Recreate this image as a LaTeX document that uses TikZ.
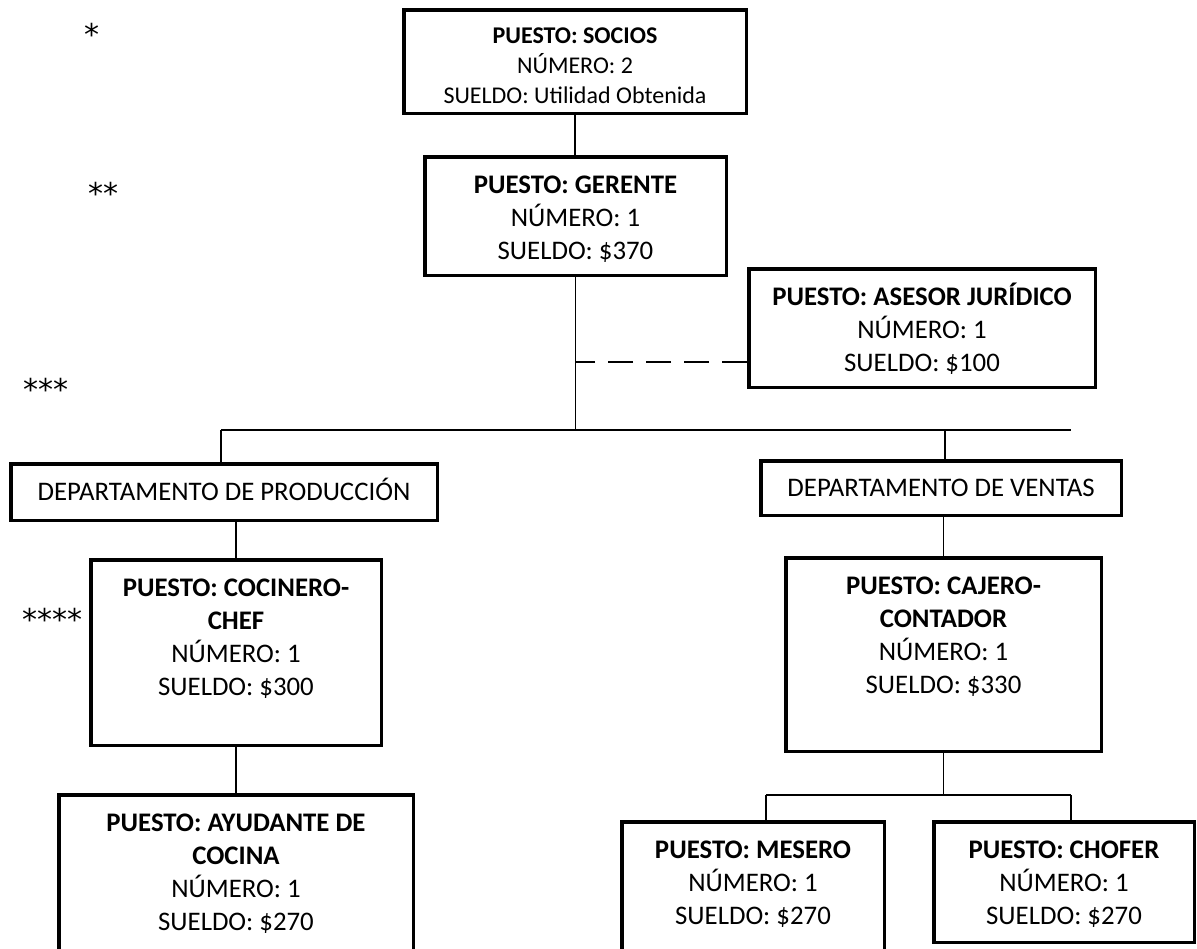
\documentclass[tikz,border=0pt]{standalone}
\usepackage{fontspec}
\setmainfont{Carlito}
\newfontfamily\estrellas{DejaVu Sans}

% caja de texto con alto fijo y texto arriba
\newcommand{\cargo}[3]{\parbox[b][#2][t]{#1}{\centering\rule{0pt}{\dimexpr\baselineskip-0.5pt\relax}#3}}

\begin{document}
\begin{tikzpicture}[x=0.5pt,y=-0.5pt,
  caja/.style={draw,line width=1.75pt,inner sep=2.2pt,
    font=\fontsize{13.4}{16.5}\selectfont},
  depto/.style={draw,line width=1.75pt,inner sep=0pt,
    font=\fontsize{13.4}{16.5}\selectfont,text height=8.6pt,text depth=0pt},
  linea/.style={line width=0.75pt},
  nivel/.style={anchor=west,inner sep=0pt,font=\estrellas\fontsize{15}{18}\selectfont}]
\useasboundingbox (0,0) rectangle (1197,948);
\clip (0,0) rectangle (1197,948);
% Niveles
\node[nivel] (n1) at (84,34) {*};
\node[nivel] (n2) at (88,193) {**};
\node[nivel] (n3) at (23,389) {***};
\node[nivel] (n4) at (22,619) {****};
% Direccion
\node[caja,font=\fontsize{12}{15}\selectfont] (socios) at (575,61.5)
  {\cargo{166.85pt}{47.35pt}{\textbf{PUESTO: SOCIOS}\\NÚMERO: 2\\SUELDO: Utilidad Obtenida}};
\node[caja] (gerente) at (575.5,216)
  {\cargo{146.35pt}{54.85pt}{\textbf{PUESTO: GERENTE}\\NÚMERO: 1\\SUELDO: \$370}};
\node[caja] (asesor) at (922,328)
  {\cargo{168.85pt}{54.85pt}{\textbf{PUESTO: ASESOR JURÍDICO}\\NÚMERO: 1\\SUELDO: \$100}};
% Departamentos
\node[depto,minimum width=213.25pt,minimum height=28.25pt] (prod) at (224,492)
  {DEPARTAMENTO DE PRODUCCIÓN};
\node[depto,minimum width=180.25pt,minimum height=27.25pt] (ventas) at (941,488)
  {DEPARTAMENTO DE VENTAS};
% Produccion
\node[caja] (chef) at (236,652.5)
  {\cargo{140.85pt}{88.35pt}{\textbf{PUESTO: COCINERO-\\CHEF}\\NÚMERO: 1\\SUELDO: \$300}};
\node[caja] (ayudante) at (236,887.5)
  {\cargo{172.85pt}{88.35pt}{\textbf{PUESTO: AYUDANTE DE\\COCINA}\\NÚMERO: 1\\SUELDO: \$270}};
% Ventas
\node[caja] (cajero) at (943.5,654.5)
  {\cargo{153.35pt}{92.35pt}{\textbf{PUESTO: CAJERO-\\CONTADOR}\\NÚMERO: 1\\SUELDO: \$330}};
\node[caja] (mesero) at (753,896.5)
  {\cargo{126.85pt}{70.35pt}{\textbf{PUESTO: MESERO}\\NÚMERO: 1\\SUELDO: \$270}};
\node[caja] (chofer) at (1064,882)
  {\cargo{125.85pt}{55.85pt}{\textbf{PUESTO: CHOFER}\\NÚMERO: 1\\SUELDO: \$270}};
% Lineas de mando
\coordinate (barraIzq) at (221,430);
\coordinate (barraDer) at (1071,430);
\coordinate (bajaVentas) at (945,430);
\draw[linea] (socios.south) -- (socios.south |- gerente.north);
\draw[linea] (gerente.south) -- (gerente.south |- barraIzq);
\draw[linea] (barraIzq) -- (barraDer);
\draw[linea] (barraIzq) -- (barraIzq |- prod.north);
\draw[linea] (bajaVentas) -- (bajaVentas |- ventas.north);
\draw[linea,dash pattern=on 12.5pt off 6.5pt]
  ([yshift=-17pt]asesor.west) -- ([yshift=-17pt]asesor.west -| gerente.south);
\draw[linea] (chef.north) -- (chef.north |- prod.south);
\draw[linea] (chef.south) -- (chef.south |- ayudante.north);
\draw[linea] (cajero.north) -- (cajero.north |- ventas.south);
\coordinate (barra2Izq) at (766,795);
\coordinate (barra2Der) at (1071,795);
\draw[linea] (cajero.south) -- (cajero.south |- barra2Izq);
\draw[linea] (barra2Izq) -- (barra2Der);
\draw[linea] (barra2Izq) -- (barra2Izq |- mesero.north);
\draw[linea] (barra2Der) -- (barra2Der |- chofer.north);
\end{tikzpicture}
\end{document}
